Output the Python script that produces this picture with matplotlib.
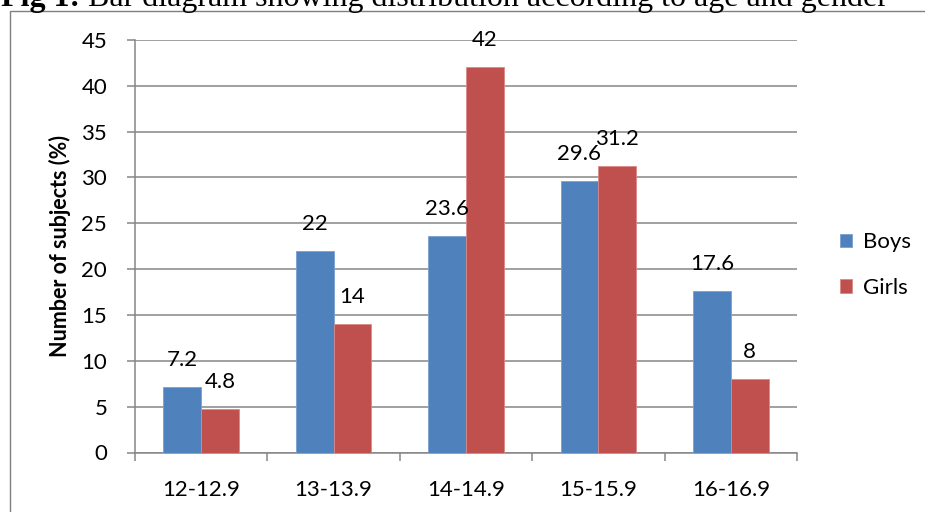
import matplotlib
matplotlib.use("Agg")
import matplotlib.pyplot as plt
from matplotlib.patches import Rectangle
import numpy as np

# Age groups and percentage of subjects per gender
age_groups = ["12-12.9", "13-13.9", "14-14.9", "15-15.9", "16-16.9"]
boys = [7.2, 22, 23.6, 29.6, 17.6]
girls = [4.8, 14, 42, 31.2, 8]
series_names = ["Boys", "Girls"]
y_ticks = [0, 5, 10, 15, 20, 25, 30, 35, 40, 45]

title_bold = "Fig 1:"
title_rest = " Bar diagram showing distribution according to age and gender"
y_label = "Number of subjects (%)"

BLUE = "#4F81BD"
RED = "#C0504D"
GRID = "#868686"
FONT = "Lato"
FS = 16

W, H, DPI = 925, 512, 100
fig = plt.figure(figsize=(W / DPI, H / DPI), dpi=DPI)
fig.patch.set_facecolor("white")

def fx(px):
    return px / W

def fy(py):
    return 1 - py / H

# outer frame of the chart object
fig.patches.append(Rectangle((fx(10), fy(600)), fx(1000), fy(11) - fy(600),
                             transform=fig.transFigure, fill=False,
                             edgecolor="#7f7f7f", linewidth=1.0))

# caption above the chart, running off the top edge of the page
renderer = fig.canvas.get_renderer()
t1 = fig.text(fx(1), fy(6), title_bold, fontfamily="Liberation Serif",
              fontweight="bold", fontsize=23, va="baseline", ha="left")
bb = t1.get_window_extent(renderer=renderer)
fig.text(bb.x1 / W, fy(6), title_rest, fontfamily="Liberation Serif",
         fontsize=23, va="baseline", ha="left")

ax = fig.add_axes([fx(135), fy(452.5), fx(797) - fx(135), fy(40) - fy(452.5)])

x = np.arange(len(age_groups))
bw = 1 / 3.5
b1 = ax.bar(x - bw / 2, boys, bw, color=BLUE, edgecolor="#7a9fd0", linewidth=0.6,
            label=series_names[0], zorder=3)
b2 = ax.bar(x + bw / 2, girls, bw, color=RED, edgecolor="#d98a88", linewidth=0.6,
            label=series_names[1], zorder=3)

for bars, vals in ((b1, boys), (b2, girls)):
    for rect, v in zip(bars, vals):
        ax.annotate(f"{v:g}", (rect.get_x() + rect.get_width() / 2, v),
                    xytext=(0, 27), textcoords="offset pixels",
                    ha="center", va="center", fontfamily=FONT, fontsize=FS,
                    zorder=5)

ax.set_xlim(-0.5, len(age_groups) - 0.5)
ax.set_ylim(0, 45)
ax.set_yticks(y_ticks)
ax.set_yticklabels([str(v) for v in y_ticks], fontfamily=FONT, fontsize=FS)
ax.yaxis.grid(True, color=GRID, linewidth=1.1, zorder=1)
ax.set_axisbelow(True)

ax.set_xticks(x)
ax.set_xticklabels(age_groups, fontfamily=FONT, fontsize=FS)
ax.tick_params(axis="x", length=0, pad=20)
ax.set_xticks(np.arange(-0.5, len(age_groups)), minor=True)
ax.tick_params(axis="x", which="minor", length=6, width=1.1, color=GRID, direction="out")
ax.tick_params(axis="y", length=6, width=1.1, color=GRID, pad=14)

for s in ("top", "right"):
    ax.spines[s].set_visible(False)
for s in ("left", "bottom"):
    ax.spines[s].set_color(GRID)
    ax.spines[s].set_linewidth(1.1)

ax_w = fx(797) - fx(135)
ax.set_ylabel(y_label, fontfamily=FONT, fontweight="bold", fontsize=15.5)
ax.yaxis.set_label_coords((fx(71) - fx(135)) / ax_w, 0.5)

ax.legend(loc="center left", bbox_to_anchor=(fx(820), fy(265)),
          bbox_transform=fig.transFigure, frameon=False,
          prop={"family": FONT, "size": FS}, handlelength=0.55, handleheight=0.55,
          handletextpad=0.5, labelspacing=1.15)

fig.savefig("out.png", dpi=DPI)
